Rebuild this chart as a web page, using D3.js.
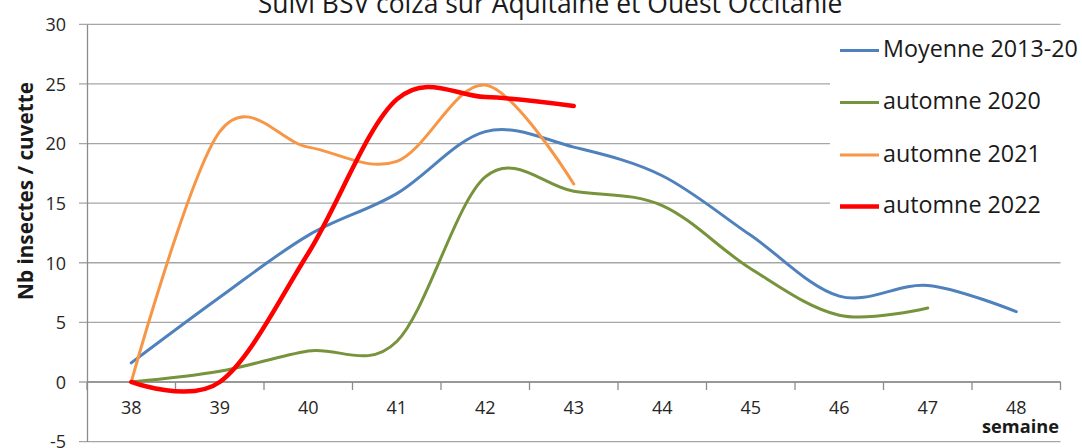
<!DOCTYPE html>
<html>
<head>
<meta charset="utf-8">
<script src="https://cdn.jsdelivr.net/npm/d3@7"></script>
<style>
  html, body { margin: 0; padding: 0; background: #fff; }
  svg { display: block; font-family: "Open Sans", "Noto Sans", sans-serif; }
</style>
</head>
<body>
<svg id="chart" width="1082" height="448"></svg>
<script>
// ---- data ----
const weeks = [38, 39, 40, 41, 42, 43, 44, 45, 46, 47, 48];
const moyenne = [1.6, 7.1, 12.3, 15.8, 21.0, 19.7, 17.3, 12.3, 7.2, 8.1, 5.9];
const automne2020 = [0, 0.9, 2.6, 3.4, 17.2, 16.0, 14.8, 9.5, 5.6, 6.2];
const automne2021 = [0, 21.0, 19.7, 18.5, 24.9, 16.6];
const automne2022 = [0, 0, 10.8, 23.7, 23.9, 23.15];
const yTicks = [-5, 0, 5, 10, 15, 20, 25, 30];
const seriesNames = ["Moyenne 2013-20", "automne 2020", "automne 2021", "automne 2022"];
const seriesColors = ["#4f81bd", "#77933c", "#f79646", "#ff0000"];
const seriesWidths = [3, 3, 3, 4.5];
const title = "Suivi BSV colza sur Aquitaine et Ouest Occitanie";
const yTitle = "Nb insectes / cuvette";
const xTitle = "semaine";

const series = [moyenne, automne2020, automne2021, automne2022];

(function () {
const svg = d3.select("#chart");
const pLeft = 87, pRight = 1060.5, pTop = 24.3, pBottom = 441.6;

const x = d3.scaleBand().domain(weeks).range([pLeft, pRight]).padding(0);
const y = d3.scaleLinear().domain([-5, 30]).range([pBottom, pTop]);
const cx = w => x(w) + x.bandwidth() / 2;

function fit(sel, target) {
  const w = sel.node().getComputedTextLength();
  const fs = parseFloat(sel.attr("font-size"));
  sel.attr("font-size", fs * target / w);
  return fs * target / w;
}

// gridlines
svg.append("g").selectAll("line").data(yTicks).join("line")
  .attr("x1", pLeft - 8).attr("x2", pRight)
  .attr("y1", d => y(d)).attr("y2", d => y(d))
  .attr("stroke", "#a6a6a6").attr("stroke-width", 1.3);

// y axis
const yAxis = d3.axisLeft(y).tickValues(yTicks).tickFormat(d => String(d)).tickSize(0).tickPadding(21);
const gy = svg.append("g").attr("transform", `translate(${pLeft},0)`).call(yAxis);
gy.select(".domain").attr("stroke", "#8c8c8c").attr("stroke-width", 1.3);
gy.selectAll("text").attr("font-size", 18).attr("fill", "#262626")
  .attr("font-family", "Open Sans").attr("dy", "0.35em");

// x axis at y=0
const xAxis = d3.axisBottom(x).tickSize(0).tickPadding(19);
const gx = svg.append("g").attr("transform", `translate(0,${y(0)})`).call(xAxis);
gx.select(".domain").remove();
gx.append("line").attr("x1", pLeft).attr("x2", pRight).attr("stroke", "#8c8c8c").attr("stroke-width", 1.3);
const bounds = weeks.map(w => x(w)).concat([pRight]);
gx.selectAll(".bt").data(bounds).join("line").attr("class", "bt")
  .attr("x1", d => d).attr("x2", d => d).attr("y1", 0).attr("y2", 8)
  .attr("stroke", "#8c8c8c").attr("stroke-width", 1.3);
gx.selectAll(".tick text").attr("font-size", 18).attr("fill", "#262626")
  .attr("font-family", "Open Sans");

// lines
const line = d3.line().x((d, i) => cx(weeks[i])).y(d => y(d)).curve(d3.curveCardinal.tension(0));
svg.append("g").selectAll("path").data(series).join("path")
  .attr("d", d => line(d))
  .attr("fill", "none")
  .attr("stroke", (d, i) => seriesColors[i])
  .attr("stroke-width", (d, i) => seriesWidths[i])
  .attr("stroke-linecap", "round").attr("stroke-linejoin", "round");

// legend
svg.append("rect").attr("x", 830).attr("y", 28).attr("width", 252).attr("height", 205).attr("fill", "#fff");
const lg = svg.append("g");
const legY = [57, 109, 161.5, 213];
const items = lg.selectAll("g").data(seriesNames).join("g")
  .attr("transform", (d, i) => `translate(0,${legY[i]})`);
items.append("line").attr("x1", 840).attr("x2", 879).attr("y1", -6.5).attr("y2", -6.5)
  .attr("stroke", (d, i) => seriesColors[i]).attr("stroke-width", (d, i) => seriesWidths[i]);
const legTexts = items.append("text").attr("x", 883).attr("y", 0)
  .attr("font-size", 20).attr("fill", "#1a1a1a").text(d => d);
const lfs = fit(d3.select(legTexts.nodes()[0]), 195);
legTexts.attr("font-size", lfs);

// title
const tt = svg.append("text").attr("x", 550).attr("y", 13).attr("text-anchor", "middle")
  .attr("font-size", 20).attr("fill", "#1a1a1a").text(title);
fit(tt, 585);

// y title
const yt = svg.append("text").attr("transform", `translate(33,191) rotate(-90)`)
  .attr("text-anchor", "middle").attr("font-weight", "bold")
  .attr("font-size", 19).attr("fill", "#1a1a1a").text(yTitle);
fit(yt, 218);

// x title
const xt = svg.append("text").attr("x", 1059).attr("y", 432.5).attr("text-anchor", "end")
  .attr("font-weight", "bold").attr("font-size", 16).attr("fill", "#1a1a1a").text(xTitle);
fit(xt, 77);
})();
</script>
</body>
</html>
